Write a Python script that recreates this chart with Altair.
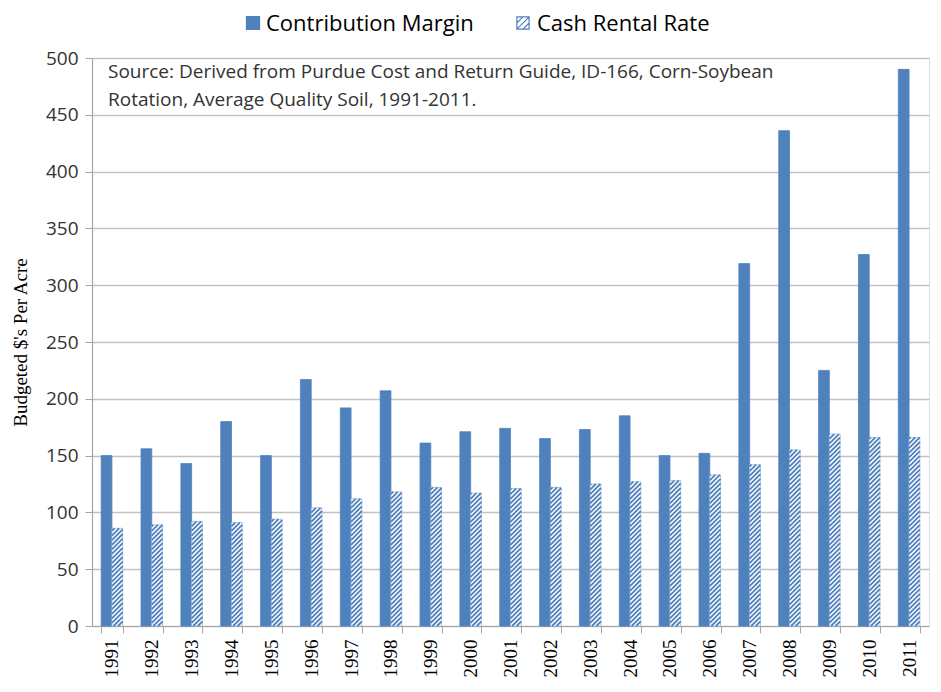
import altair as alt
import pandas as pd

# ---------------- data ----------------
years = [str(y) for y in range(1991, 2012)]
contribution_margin = [150, 156, 143, 180, 150, 217, 192, 207, 161, 171, 174,
                       165, 173, 185, 150, 152, 319, 436, 225, 327, 490]
cash_rental_rate = [86, 89, 92, 91, 94, 104, 112, 118, 122, 117, 121,
                    122, 125, 127, 128, 133, 142, 155, 169, 166, 166]
series_names = ["Contribution Margin", "Cash Rental Rate"]
y_ticks = list(range(0, 501, 50))
source_note = [
    "Source: Derived from Purdue Cost and Return Guide, ID-166, Corn-Soybean",
    "Rotation, Average Quality Soil, 1991-2011.",
]

# ---------------- layout / style ----------------
W, H = 837, 568
Y_MAX = 500
BLUE = "#4F81BD"
GRAY = "#A6A6A6"
PI = 0.46            # band paddingInner (outer = PI/2 keeps step = W/n)
N = len(years)

bars_df = pd.DataFrame({
    "year": years * 2,
    "series": [series_names[0]] * N + [series_names[1]] * N,
    "value": contribution_margin + cash_rental_rate,
})

# diagonal hatch segments for the Cash Rental Rate bars (decoration, derived from values)
step_px = W / N
ky = H / Y_MAX                      # px per $
col_lo = 0.5                        # cash column start within band-step units
col_hi = 1 - PI / 2                 # cash column end
w_px = (col_hi - col_lo) * step_px
dy = w_px / ky                      # 45 degree rise in data units across the bar
spacing = 4.6 / ky                  # vertical spacing between stripes
rows = []
for i, v in enumerate(cash_rental_rate):
    c = -dy
    while c < v:
        t0 = max(0.0, -c / dy)
        t1 = min(1.0, (v - c) / dy)
        if t1 > t0:
            rows.append({
                "sx": i + col_lo + t0 * (col_hi - col_lo),
                "sx2": i + col_lo + t1 * (col_hi - col_lo),
                "sy": c + dy * t0,
                "sy2": c + dy * t1,
            })
        c += spacing
stripes_df = pd.DataFrame(rows)

y_scale = alt.Scale(domain=[0, Y_MAX], nice=False, zero=True)
y_axis = alt.Axis(
    values=y_ticks, title="Budgeted $'s Per Acre", titleFont="Liberation Serif",
    titleFontSize=19, titleFontWeight="normal", titleColor="#000000",
    labelFont="Open Sans", labelFontSize=19, labelColor="#333333",
    tickSize=7, tickColor=GRAY, domainColor=GRAY, domainWidth=1.2,
    gridColor="#C2C2C2", gridWidth=1.3, labelPadding=7, titlePadding=15,
)

x_enc = alt.X(
    "year:N", sort=years,
    scale=alt.Scale(paddingInner=PI, paddingOuter=PI / 2, round=False),
    axis=alt.Axis(
        title=None, labelAngle=270, labelFont="Liberation Serif", labelFontSize=19,
        labelColor="#000000", tickBand="extent", tickSize=7, tickColor=GRAY,
        domainColor=GRAY, domainWidth=1.2, grid=False, labelPadding=6,
    ),
)
xoff_enc = alt.XOffset(
    "series:N", sort=series_names,
    scale=alt.Scale(domain=series_names, paddingInner=0, paddingOuter=0, round=False),
)

is_cm = alt.datum.series == series_names[0]
bars = alt.Chart(bars_df).mark_bar(strokeWidth=0.8).encode(
    x=x_enc,
    xOffset=xoff_enc,
    y=alt.Y("value:Q", scale=y_scale, axis=y_axis),
    fill=alt.condition(is_cm, alt.value(BLUE), alt.value("white")),
    stroke=alt.condition(is_cm, alt.value(BLUE), alt.value("#9DB6D8")),
)

stripes = alt.Chart(stripes_df).mark_rule(color=BLUE, strokeWidth=1.8).encode(
    x=alt.X("sx:Q", scale=alt.Scale(domain=[0, N], nice=False, zero=False), axis=None),
    x2="sx2:Q",
    y=alt.Y("sy:Q", scale=y_scale, axis=y_axis),
    y2="sy2:Q",
)

# ---------------- legend (drawn as marks above the plot) ----------------
hatch_path = "M-1,-1H1V1H-1Z M-1,0L0,-1 M-1,1L1,-1 M0,1L1,0"
LEG_BASE = -27        # text baseline, px relative to plot top
LEG_SYM = -35         # symbol centre
leg_cm_df = pd.DataFrame({"series": [series_names[0]]})
leg_cash_df = pd.DataFrame({"series": [series_names[1]]})

leg_sym_cm = alt.Chart(leg_cm_df).mark_point(
    shape="square", size=150, filled=True, fill=BLUE, stroke=BLUE, opacity=1
).encode(x=alt.value(161), y=alt.value(LEG_SYM))
leg_sym_cash = alt.Chart(leg_cash_df).mark_point(
    shape=hatch_path, size=150, filled=False, fill="white", stroke=BLUE,
    strokeWidth=1.2, opacity=1
).encode(x=alt.value(431), y=alt.value(LEG_SYM))

label_style = dict(align="left", baseline="alphabetic", font="Open Sans",
                   fontSize=22, color="#000000")
leg_txt_cm = alt.Chart(leg_cm_df).mark_text(**label_style).encode(
    x=alt.value(174), y=alt.value(LEG_BASE), text="series:N")
leg_txt_cash = alt.Chart(leg_cash_df).mark_text(**label_style).encode(
    x=alt.value(445), y=alt.value(LEG_BASE), text="series:N")

note_df = pd.DataFrame({"t": ["\n".join(source_note)]})
note = alt.Chart(note_df).mark_text(
    align="left", baseline="top", lineBreak="\n", lineHeight=28,
    font="Open Sans", fontSize=19, color="#333333",
).encode(x=alt.value(16), y=alt.value(5), text="t:N")

chart = alt.layer(
    bars, stripes, note, leg_sym_cm, leg_sym_cash, leg_txt_cm, leg_txt_cash
).resolve_scale(
    x="independent"
).properties(
    width=W, height=H,
    autosize=alt.AutoSizeParams(type="none"),
    padding={"left": 84, "top": 50, "right": 4, "bottom": 54},
).configure_view(stroke=None).configure(background="white")

chart.save("out.html", embed_options={"renderer": "svg", "actions": False})
